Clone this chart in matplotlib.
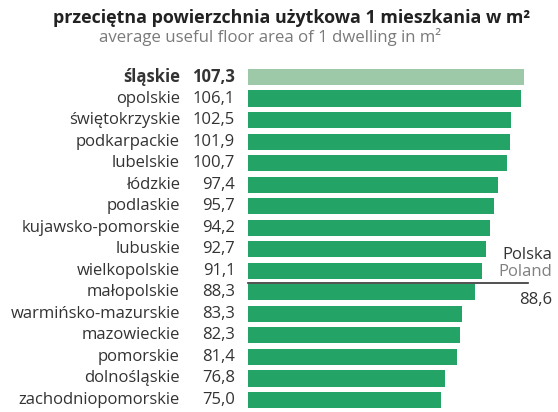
import matplotlib.pyplot as plt

plt.rcParams['font.family'] = ['Open Sans', 'DejaVu Sans']

# average useful floor area of 1 dwelling by voivodeship (m2)
regions = ["śląskie", "opolskie", "świętokrzyskie", "podkarpackie", "lubelskie",
           "łódzkie", "podlaskie", "kujawsko-pomorskie", "lubuskie", "wielkopolskie",
           "małopolskie", "warmińsko-mazurskie", "mazowieckie", "pomorskie",
           "dolnośląskie", "zachodniopomorskie"]
area = [107.3, 106.1, 102.5, 101.9, 100.7, 97.4, 95.7, 94.2, 92.7, 91.1,
        88.3, 83.3, 82.3, 81.4, 76.8, 75.0]
poland = 88.6
highlight = "śląskie"

dark_green = "#23a466"
light_green = "#9dc9a8"
text_col = "#333333"
fs = 12

fig = plt.figure(figsize=(5.58, 4.12), dpi=100)
ax = fig.add_axes([248 / 558, 1 - 410.8 / 412, 310 / 558, (410.8 - 66.2) / 412])

ypos = list(range(len(regions)))
colors = [light_green if r == highlight else dark_green for r in regions]
ax.barh(ypos, area, height=0.75, color=colors)
ax.set_xlim(0, 310 / 2.57)
ax.set_ylim(len(regions) - 0.5, -0.5)
ax.axis("off")

for y, name, val in zip(ypos, regions, area):
    weight = "bold" if name == highlight else "normal"
    ax.text(-26.5, y, name, ha="right", va="center", fontsize=fs,
            color=text_col, fontweight=weight)
    ax.text(-5, y, f"{val:.1f}".replace(".", ","), ha="right", va="center",
            fontsize=fs, color=text_col, fontweight=weight)

# national average marker
rank = sum(v > poland for v in area) - 0.45
ax.plot([0, 109], [rank, rank], color="#333333", lw=1.2, clip_on=False)
ax.text(118.5, rank - 1.3, "Polska", ha="right", va="center", fontsize=fs, color=text_col)
ax.text(118.5, rank - 0.5, "Poland", ha="right", va="center", fontsize=fs, color="#808080")
ax.text(118.5, rank + 0.8, f"{poland:.1f}".replace(".", ","), ha="right", va="center",
        fontsize=fs, color=text_col)

fig.text(0.522, 0.957, "przeciętna powierzchnia użytkowa 1 mieszkania w m²",
         ha="center", va="center", fontsize=12.9, fontweight="bold", color="#222222")
fig.text(0.484, 0.91, "average useful floor area of 1 dwelling in m²",
         ha="center", va="center", fontsize=12.1, color="#7a7a7a")

fig.savefig("out.png", dpi=100)
